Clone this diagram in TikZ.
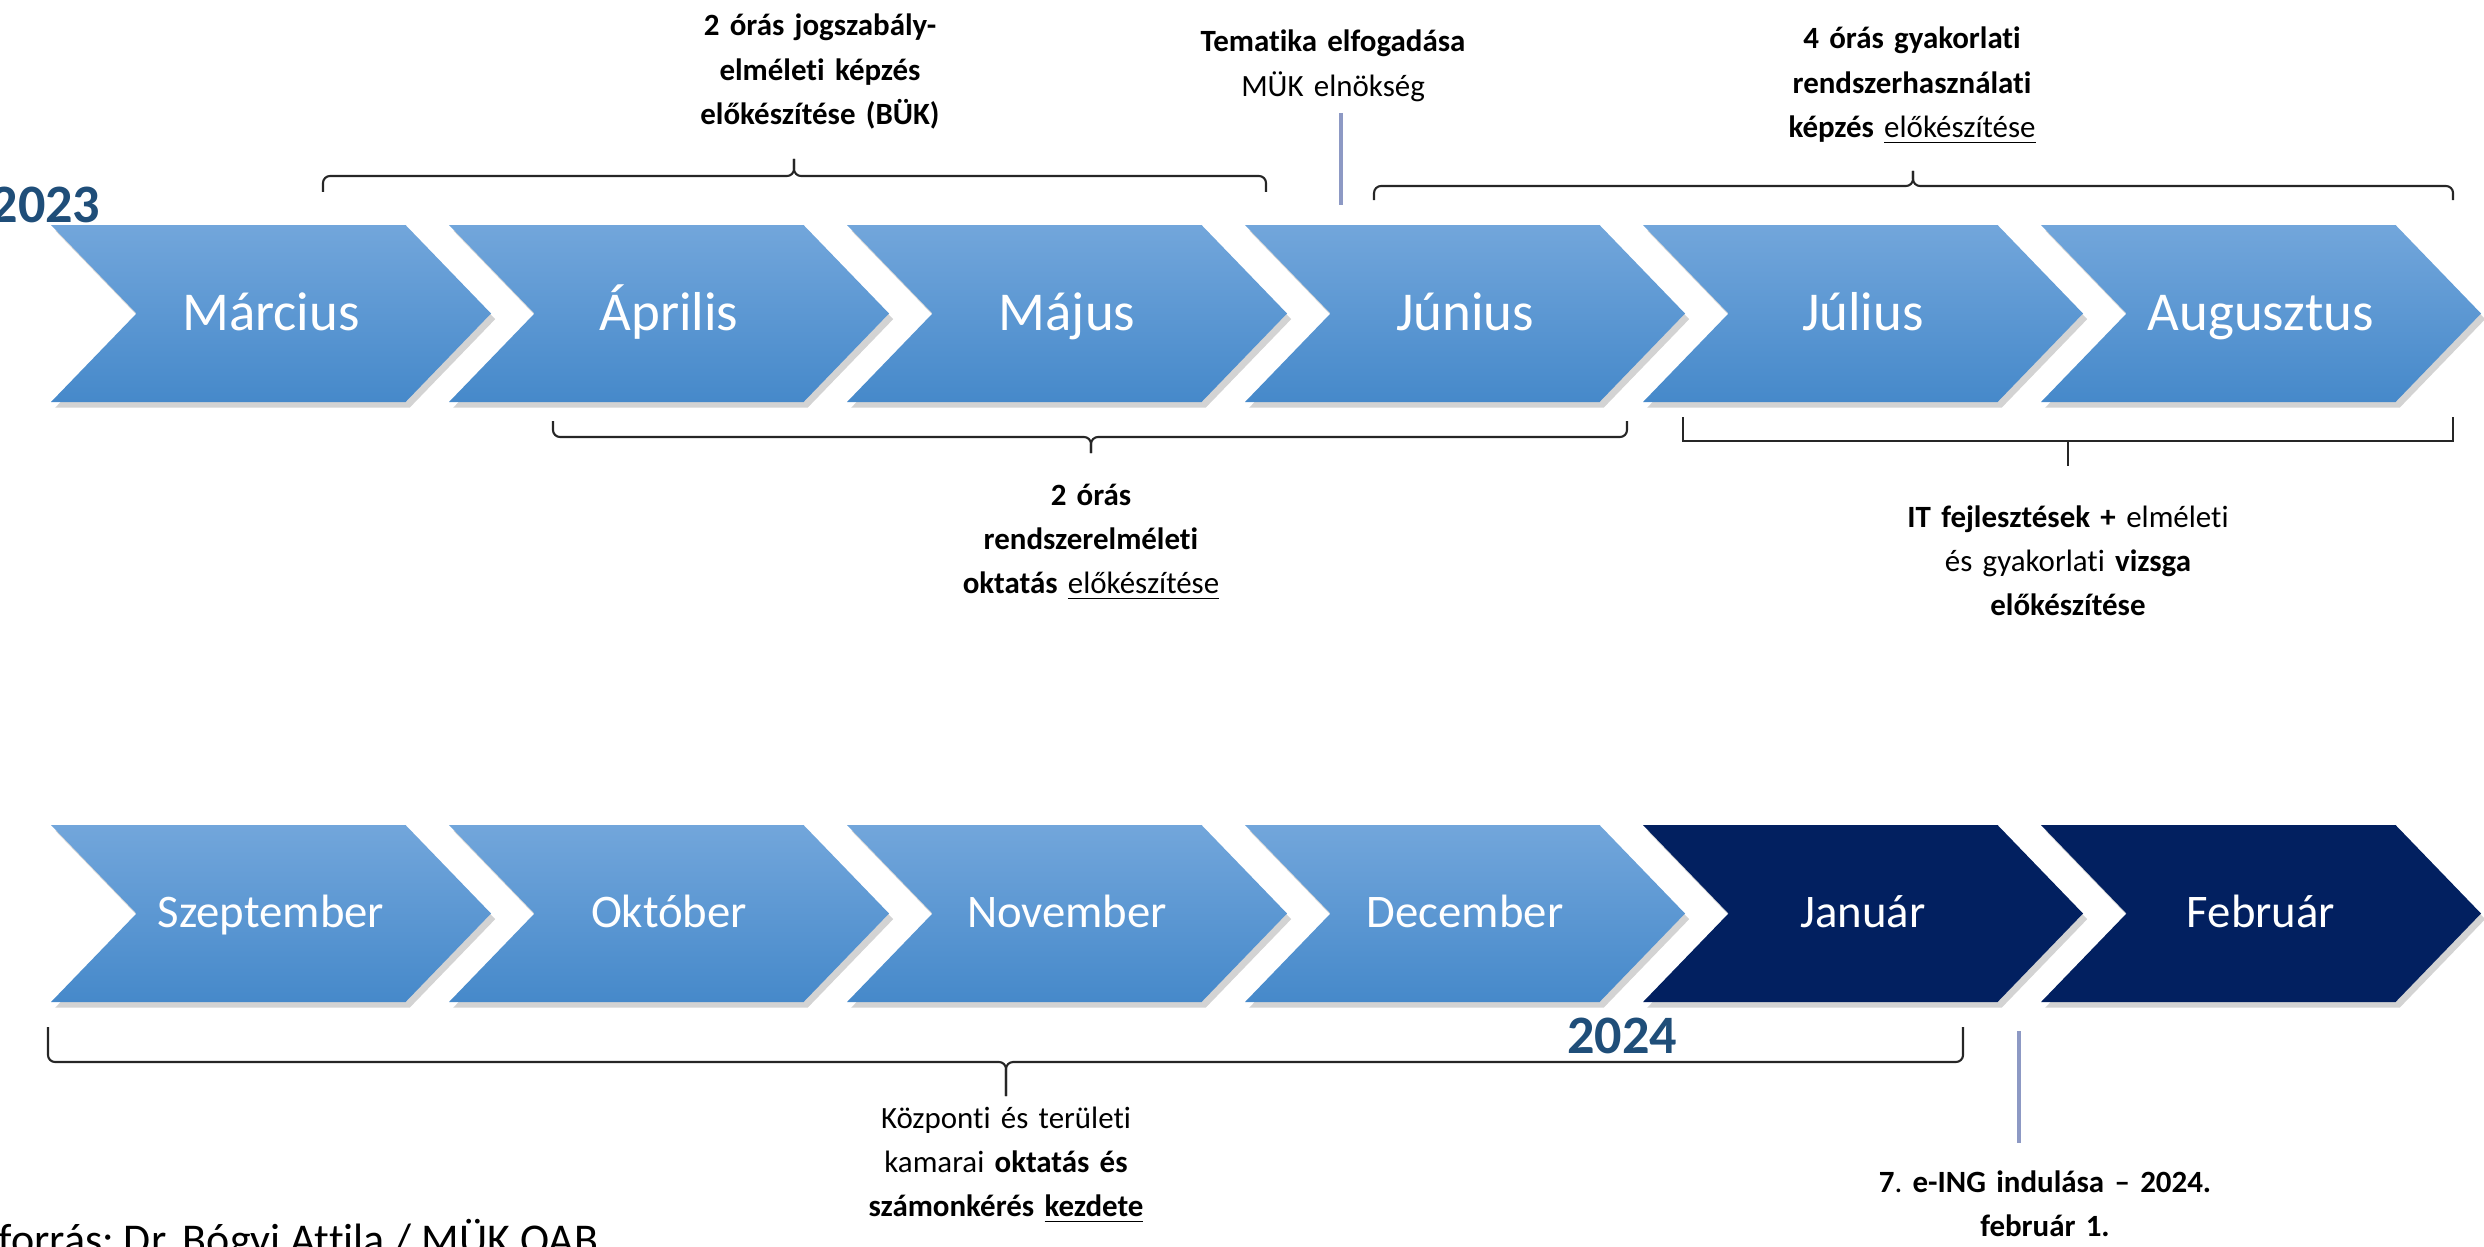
\documentclass[tikz,border=0pt]{standalone}
\usepackage{fontspec}
\setmainfont{Carlito}[Ligatures=NoCommon]
\usetikzlibrary{positioning,shapes.symbols,shadows}
\definecolor{chevtop}{HTML}{72A6DB}
\definecolor{chevmid}{HTML}{5B9BD7}
\definecolor{chevbot}{HTML}{4689CA}
\definecolor{navy}{HTML}{022060}
\definecolor{yearblue}{HTML}{1F4E79}
\definecolor{markgray}{HTML}{8D99C4}

\begin{document}
\frenchspacing
\begin{tikzpicture}[x=0.1mm, y=-0.1mm, node distance=39.8mm,
	chevron/.style={signal, signal to=east, signal from=west, signal pointer angle=92,
		minimum width=44mm, minimum height=17.7mm, inner sep=0pt, text=white,
		font=\fontsize{15.6}{18}\selectfont, text height=3.7mm, text depth=0.4mm,
		drop shadow={shadow xshift=1.2pt, shadow yshift=-1.6pt, opacity=.35}},
	light month/.style={chevron, top color=chevtop, middle color=chevmid, bottom color=chevbot},
	dark month/.style={chevron, fill=navy},
	small/.style={font=\fontsize{13.3}{16}\selectfont, text height=3mm, text depth=0.3mm},
	note/.style={text width=40mm, align=center, anchor=base, inner sep=0pt,
		font=\fontsize{8.8}{12.6}\selectfont},
	year/.style={inner sep=0pt, text=yearblue, font=\fontsize{15.4}{18}\selectfont\bfseries},
	bracket line/.style={draw=black!85, line width=0.6pt, rounded corners=2pt},
	marker line/.style={draw=markgray, line width=0.9pt}]
	\useasboundingbox (0,0) rectangle (2484,1246);

	% 2023
	\node[light month] (mar) at (271,313.5) {Március};
	\node[light month] (apr) [right of=mar] {Április};
	\node[light month] (maj) [right of=apr] {Május};
	\node[light month] (jun) [right of=maj] {Június};
	\node[light month] (jul) [right of=jun] {Július};
	\node[light month] (aug) [right of=jul] {Augusztus};

	% 2023-2024
	\node[light month, small] (sze) at (271,913.5) {Szeptember};
	\node[light month, small] (okt) [right of=sze] {Október};
	\node[light month, small] (nov) [right of=okt] {November};
	\node[light month, small] (dec) [right of=nov] {December};
	\node[dark month, small] (jan) [right of=dec] {Január};
	\node[dark month, small] (feb) [right of=jan] {Február};

	\node[year, anchor=base east] (y23) at (101,222) {2023};
	\node[year, anchor=base] (y24) at (1622,1053) {2024};

	% labels
	\node[note] (jog) at (820,36) {\textbf{2 órás jogszabály-}\\\textbf{elméleti képzés}\\\textbf{előkészítése (BÜK)}};
	\node[note] (tem) at (1333,52) {\textbf{Tematika elfogadása}\\MÜK elnökség};
	\node[note] (gyak) at (1912,49) {\textbf{4 órás gyakorlati}\\\textbf{rendszerhasználati}\\\textbf{képzés} \underline{előkészítése}};
	\node[note] (elm) at (1091,505) {\textbf{2 órás}\\\textbf{rendszerelméleti}\\\textbf{oktatás} \underline{előkészítése}};
	\node[note] (it) at (2068,527) {\textbf{IT fejlesztések +} elméleti\\és gyakorlati \textbf{vizsga}\\\textbf{előkészítése}};
	\node[note] (kam) at (1006,1128) {Központi és területi\\kamarai \textbf{oktatás és}\\\textbf{számonkérés} \underline{\textbf{kezdete}}};
	\node[note] (eing) at (2045,1192) {\textbf{7}. \textbf{e-ING indulása – 2024.}\\\textbf{február 1.}};

	\node[anchor=base west, inner sep=0pt, font=\fontsize{12.5}{15}\selectfont] (src) at (-2,1254) {forrás: Dr. Bógyi Attila / MÜK OAB};

	% milestones
	\coordinate (tem top) at (1341,113);
	\coordinate (tem bot) at (1341,205);
	\coordinate (eing top) at (2019,1031);
	\coordinate (eing bot) at (2019,1143);
	\draw[marker line] (tem top) -- (tem bot);
	\draw[marker line] (eing top) -- (eing bot);

	% braces
	\draw[bracket line] (323,192) |- (794,176) -- (794,159);
	\draw[bracket line] (1266,192) |- (794,176) -- (794,159);
	\draw[bracket line] (1374,200) |- (1913,186) -- (1913,171);
	\draw[bracket line] (2453,200) |- (1913,186) -- (1913,171);
	\draw[bracket line] (553,421) |- (1091,437) -- (1091,453);
	\draw[bracket line] (1627,421) |- (1091,437) -- (1091,453);
	\draw[bracket line, sharp corners] (1683,417) |- (2453,441) -- (2453,417);
	\draw[bracket line] (2068,441) -- (2068,466);
	\draw[bracket line] (48,1027) |- (1006,1062) -- (1006,1096);
	\draw[bracket line] (1963,1027) |- (1006,1062) -- (1006,1096);
\end{tikzpicture}
\end{document}
